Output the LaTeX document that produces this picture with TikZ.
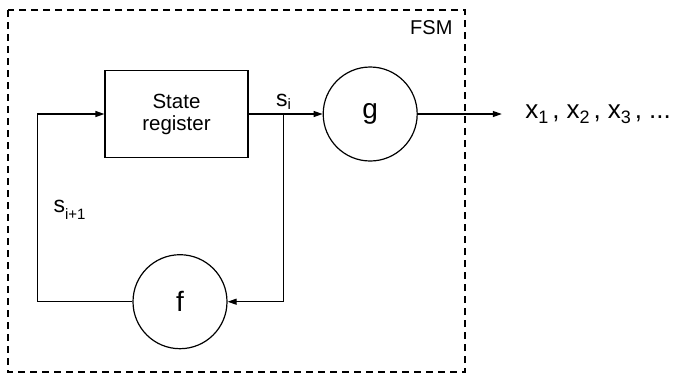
\documentclass[tikz,border=0pt]{standalone}
\usepackage{fontspec}
\setmainfont{Liberation Sans}
\usetikzlibrary{arrows.meta,positioning}

\newcommand\idx[3]{\raisebox{-#1}{\fontsize{#2}{#2}\selectfont#3}}
\newcommand\sep{\hspace{4pt},\hspace{7pt}}

\begin{document}
\begin{tikzpicture}[
  x=1pt,y=-1pt,
  line width=1.2pt,
  >={Triangle[length=9pt,width=6pt]},
  regbox/.style={draw,minimum width=143pt,minimum height=87pt,align=center,
    font=\fontsize{20.5}{22}\selectfont},
  func/.style={circle,draw,minimum size=94pt,inner sep=0pt,
    font=\fontsize{28}{30}\selectfont},
  sig/.style={font=\fontsize{23}{26}\selectfont,inner sep=1pt},
  fsmframe/.style={dash pattern=on 7pt off 5pt}
]
  \useasboundingbox (0,0) rectangle (679,373);
  \draw[fsmframe] (8,10) rectangle (465,372);
  \node[anchor=north east,inner sep=0pt,font=\fontsize{20}{22}\selectfont] (fsm) at (453,20) {FSM};

  \node[regbox] (reg) at (176.5,114) {State\\register};
  \node[func,right=74pt of reg] (g) {g};
  \node[func,below=96pt of reg,xshift=3.5pt] (f) {f};

  \coordinate[right=35pt of reg.east] (split);
  \coordinate[left=67pt of reg.west] (loopin);
  \coordinate[right=84pt of g.east] (out);

  % state and feedback
  \draw[->] (reg.east) -- (g.west);
  \draw[->] (split) |- (f.east);
  \draw[->] (f.west) -| (loopin) -- (reg.west);
  \draw[->] (g.east) -- (out);

  \node[sig,above=3pt of split] (si) {s\idx{3pt}{15}{i}};
  \node[sig,anchor=west] (snext) at (52,210) {s\idx{7pt}{15}{i+1}};
  \node[sig,right=22pt of out,font=\fontsize{26}{28}\selectfont] (xs)
    {x\idx{5pt}{18}{1}\sep x\idx{5pt}{18}{2}\sep x\idx{5pt}{18}{3}\sep ...};
\end{tikzpicture}
\end{document}
